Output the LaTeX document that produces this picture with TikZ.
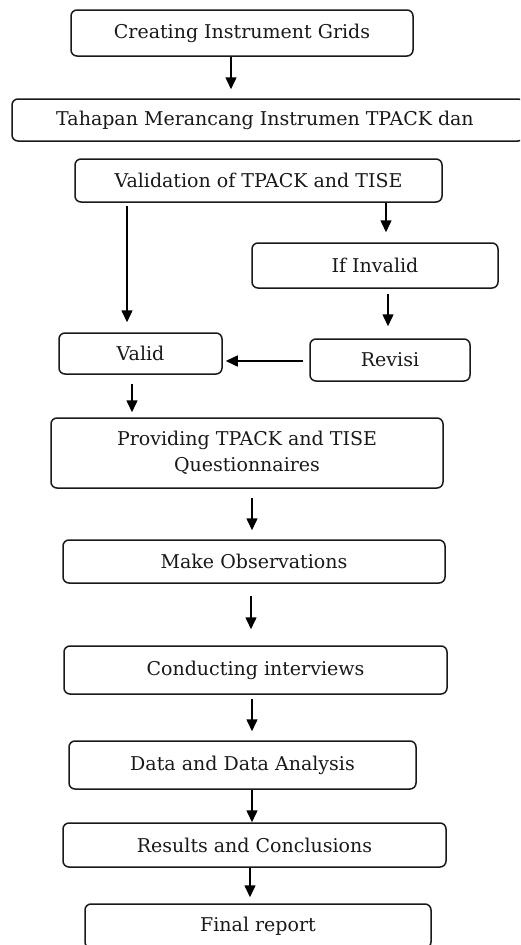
\documentclass[tikz,border=0pt]{standalone}
\usepackage{fontspec}
\setmainfont{DejaVu Serif}
\usetikzlibrary{arrows.meta}
\begin{document}
\begin{tikzpicture}[x=1pt,y=-1pt,
  box/.style={draw=black!90, line width=1.5pt, rounded corners=6pt, inner sep=0pt, align=center,
    font=\fontsize{19}{26}\selectfont, text=black!90},
  arr/.style={line width=1.5pt, -{Triangle[width=11pt,length=12pt]}}]
\useasboundingbox (0,0) rectangle (520,945);
\begin{scope}
\clip (0,0) rectangle (520,945);
\node[box, minimum width=342pt, minimum height=46pt] (b1) at (242,33) {Creating Instrument Grids};
\node[box, minimum width=512pt, minimum height=42pt] (b2) at (268,120) {\hspace*{-6pt}Tahapan Merancang Instrumen TPACK dan};
\node[box, minimum width=367pt, minimum height=43pt] (b3) at (258.5,180.5) {Validation of TPACK and TISE};
\node[box, minimum width=246pt, minimum height=45pt] (inv) at (375,265.5) {If Invalid};
\node[box, minimum width=163pt, minimum height=41pt] (val) at (140.5,353.5) {Valid};
\node[box, minimum width=160pt, minimum height=42pt] (rev) at (390,360) {Revisi};
\node[box, minimum width=392pt, minimum height=70pt] (prov) at (247,453) {Providing TPACK and TISE\\Questionnaires};
\node[box, minimum width=382pt, minimum height=43pt] (obs) at (254,561.5) {Make Observations};
\node[box, minimum width=383pt, minimum height=48pt] (int) at (255.5,670) {Conducting interviews};
\node[box, minimum width=347pt, minimum height=48pt] (dat) at (242.5,765) {Data and Data Analysis};
\node[box, minimum width=383pt, minimum height=44pt] (res) at (254.5,845) {Results and Conclusions};
\node[box, minimum width=346pt, minimum height=44pt] (fin) at (258,926) {Final report};
\end{scope}
\draw[arr, shorten >=9pt] (b1.south -| 231,0) -- (b2.north -| 231,0);
\draw[arr, shorten >=10pt, shorten <=3pt] (b3.south -| 127,0) -- (val.north -| 127,0);
\draw[arr, shorten >=10pt] (b3.south -| 386,0) -- (inv.north -| 386,0);
\draw[arr, shorten >=12pt, shorten <=5pt] (inv.south -| 388,0) -- (rev.north -| 388,0);
\draw[arr, shorten >=3pt, shorten <=6pt] (rev.west |- 0,361) -- (val.east |- 0,361);
\draw[arr, shorten >=5pt, shorten <=9pt] (val.south -| 132,0) -- (prov.north -| 132,0);
\draw[arr, shorten >=9pt, shorten <=9pt] (prov.south -| 252,0) -- (obs.north -| 252,0);
\draw[arr, shorten >=16pt, shorten <=12pt] (obs.south -| 251,0) -- (int.north -| 251,0);
\draw[arr, shorten >=9pt, shorten <=4pt] (int.south -| 252,0) -- (dat.north -| 252,0);
\draw[arr] (dat.south -| 252,0) -- (res.north -| 252,0);
\draw[arr, shorten >=6pt] (res.south -| 250,0) -- (fin.north -| 250,0);
\end{tikzpicture}
\end{document}
